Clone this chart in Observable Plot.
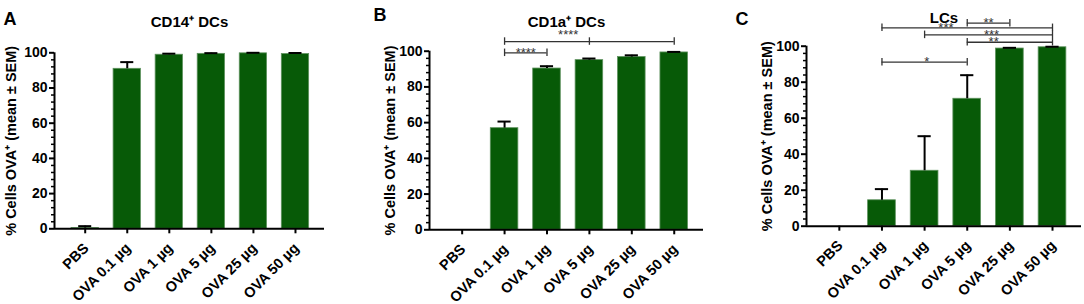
<!DOCTYPE html>
<html>
<head>
<meta charset="utf-8">
<script src="https://cdn.jsdelivr.net/npm/d3@7"></script>
<script src="https://cdn.jsdelivr.net/npm/@observablehq/plot@0.6"></script>
<style>
  html, body { margin: 0; padding: 0; background: #fff; }
  #wrap { display: flex; width: 1084px; height: 304px; overflow: hidden; }
  #wrap svg { display: block; }
</style>
</head>
<body>
<div id="wrap"></div>
<script>
// ---- data ----
const categories = ["PBS", "OVA 0.1 µg", "OVA 1 µg", "OVA 5 µg", "OVA 25 µg", "OVA 50 µg"];
const yTicks = [0, 20, 40, 60, 80, 100];

const cd14Mean = [0.4, 90.9, 98.9, 99.4, 99.7, 99.3];
const cd14Sem  = [1.1, 3.8, 0.6, 0.4, 0.3, 0.6];

const cd1aMean = [0, 56.9, 90.3, 95.0, 96.7, 99.3];
const cd1aSem  = [0, 3.7, 1.3, 0.9, 1.0, 0.3];

const lcMean = [0, 14.4, 30.8, 70.8, 98.7, 99.4];
const lcSem  = [0, 6.2, 19.2, 13.1, 0.4, 0.3];

// significance brackets: from/to are category indices, level in y units
const cd1aBrackets = [
  {from: 1, to: 5, mid: 3, level: 105.4, label: "****", labelAt: 2.5, lift: 4},
  {from: 1, to: 2, mid: null, level: 99.1, label: "****", labelAt: 1.5, lift: 0}
];
const lcBrackets = [
  {from: 3, to: 4, mid: null, level: 112.8, label: "**", labelAt: 3.5, lift: 0},
  {from: 1, to: 5, mid: null, level: 110.2, label: "***", labelAt: 2.5, lift: 0},
  {from: 2, to: 5, mid: null, level: 106.3, label: "***", labelAt: 3.57, lift: 0},
  {from: 3, to: 5, mid: null, level: 102.2, label: "**", labelAt: 3.62, lift: 0},
  {from: 1, to: 3, mid: null, level: 91.1, label: "*", labelAt: 2.05, lift: 0}
];

const yLabel = "% Cells OVA⁺ (mean ± SEM)";
const minorTicks = d3.range(0, 101, 4).filter(v => v % 20 !== 0);

function panel(cfg) {
  const rows = categories.map((c, i) => ({i, cat: c, mean: cfg.mean[i], sem: cfg.sem[i]}));
  const withErr = rows.filter(d => d.sem > 0);
  const half = 0.325, cap = 0.155, endCap = 2.1;
  const br = cfg.brackets || [];
  const ends = br.flatMap(b => [b.from, b.to].concat(b.mid != null ? [b.mid] : []).map(x => ({x, level: b.level})));
  const xTicks = d3.range(categories.length);
  return Plot.plot({
    width: cfg.width,
    height: 304,
    marginLeft: cfg.ml,
    marginRight: cfg.mr,
    marginTop: cfg.mt,
    marginBottom: cfg.mb,
    style: {fontFamily: "'Liberation Sans', Arial, sans-serif", fontSize: "14px", fontWeight: "bold", color: "black", background: "white", overflow: "visible"},
    x: {domain: cfg.xDomain, axis: null},
    y: {domain: [0, 100], axis: null},
    marks: [
      Plot.rectY(rows, {x1: d => d.i - half, x2: d => d.i + half, y1: 0, y2: "mean", fill: "#075a07", stroke: "#5e925e", strokeWidth: 0.8}),
      Plot.ruleX(withErr, {x: "i", y1: "mean", y2: d => d.mean + d.sem, stroke: "black", strokeWidth: 2}),
      Plot.ruleY(withErr, {x1: d => d.i - cap, x2: d => d.i + cap, y: d => d.mean + d.sem, stroke: "black", strokeWidth: 2}),
      Plot.ruleX([cfg.xDomain[0]], {stroke: "black", strokeWidth: 2}),
      Plot.ruleY([0], {stroke: "black", strokeWidth: 2}),
      Plot.axisY({ticks: yTicks, tickSize: 5, tickPadding: 2, fontSize: 14, strokeWidth: 2, label: null}),
      Plot.axisY({ticks: minorTicks, tickSize: 3, tickFormat: () => "", strokeWidth: 1.5, label: null}),
      Plot.axisX({ticks: xTicks, tickSize: 5, tickFormat: () => "", strokeWidth: 2, label: null}),
      Plot.axisX({ticks: xTicks, tickFormat: i => categories[i], tickRotate: -45, tickSize: 0, tickPadding: 8, fontSize: 14.5, label: null, dx: 1, dy: 9}),
      Plot.ruleY(br, {x1: "from", x2: "to", y: "level", stroke: "#333", strokeWidth: 1.3}),
      Plot.ruleX(ends, {x: "x", y1: d => d.level - endCap, y2: d => d.level + endCap, stroke: "#333", strokeWidth: 1.3}),
      Plot.text(br, {x: "labelAt", y: d => d.level + d.lift, text: "label", fontSize: 13, fontWeight: "normal", fill: "#333", lineAnchor: "middle"}),
      Plot.text([cfg.title], {frameAnchor: "top", dy: -(cfg.mt - cfg.titleY), lineAnchor: "bottom", fontSize: 15}),
      Plot.text([yLabel], {frameAnchor: "left", textAnchor: "middle", rotate: -90, dx: -cfg.labelOff, fontSize: 14.5, lineAnchor: "middle"}),
      Plot.text([cfg.letter], {frameAnchor: "top-left", dx: -(cfg.ml - cfg.letterX), dy: -(cfg.mt - cfg.letterY), textAnchor: "start", lineAnchor: "bottom", fontSize: 18})
    ]
  });
}

const wrap = document.getElementById("wrap");
wrap.append(panel({
  mean: cd14Mean, sem: cd14Sem, title: "CD14⁺ DCs", letter: "A",
  width: 360, ml: 54, mr: 36, mt: 52.3, mb: 75.7, xDomain: [-0.73, 5.69],
  titleY: 26, letterX: 3, letterY: 24, labelOff: 43
}));
wrap.append(panel({
  mean: cd1aMean, sem: cd1aSem, title: "CD1a⁺ DCs", letter: "B", brackets: cd1aBrackets,
  width: 360, ml: 69, mr: 17, mt: 50.7, mb: 74.7, xDomain: [-0.77, 5.69],
  titleY: 26, letterX: 13, letterY: 20, labelOff: 39
}));
wrap.append(panel({
  mean: lcMean, sem: lcSem, title: "LCs", letter: "C", brackets: lcBrackets,
  width: 364, ml: 86, mr: 3, mt: 45.7, mb: 78.3, xDomain: [-0.77, 5.68],
  titleY: 22, letterX: 15, letterY: 24, labelOff: 39
}));
</script>
</body>
</html>
